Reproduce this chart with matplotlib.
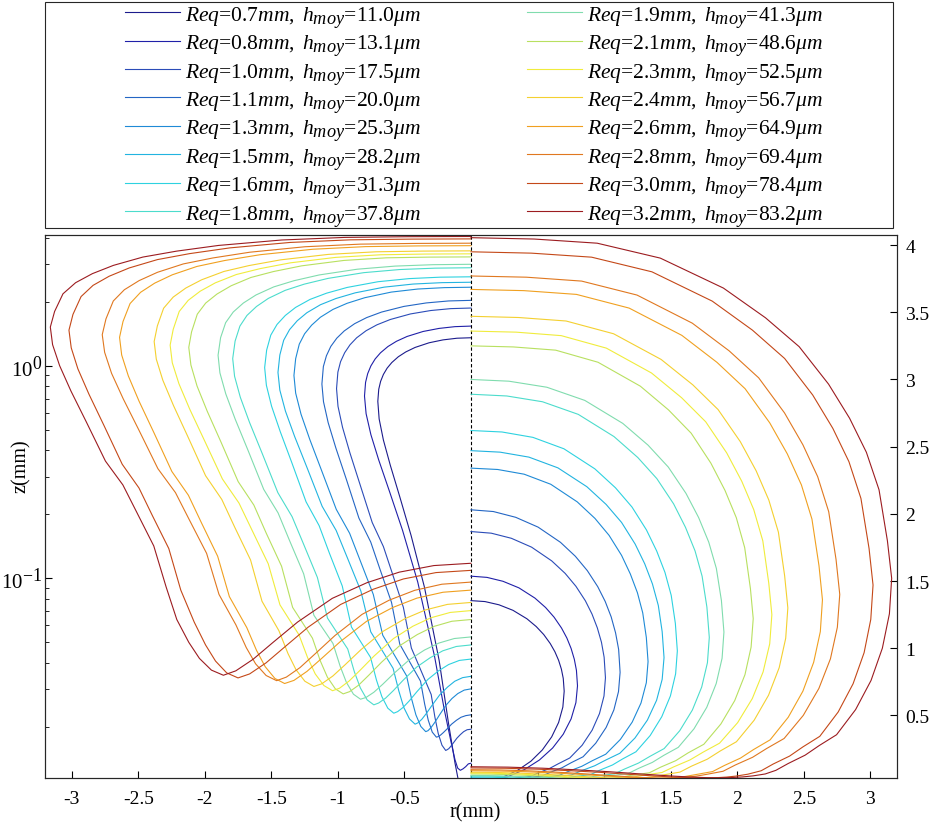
import matplotlib
matplotlib.use("Agg")
import matplotlib.pyplot as plt
import matplotlib._mathtext as mtext
from matplotlib.patches import Rectangle
from matplotlib.ticker import NullFormatter

plt.rcParams['font.family'] = 'Liberation Serif'
plt.rcParams['mathtext.fontset'] = 'custom'
plt.rcParams['mathtext.rm'] = 'Liberation Serif'
plt.rcParams['mathtext.it'] = 'Liberation Serif:italic'
mtext.SHRINK_FACTOR = 0.85  # MATLAB-like larger sub/superscripts

# bubble parameters (legend)
req = [0.7, 0.8, 1.0, 1.1, 1.3, 1.5, 1.6, 1.8, 1.9, 2.1, 2.3, 2.4, 2.6, 2.8, 3.0, 3.2]
h_moy = [11.0, 13.1, 17.5, 20.0, 25.3, 28.2, 31.3, 37.8, 41.3, 48.6, 52.5, 56.7, 64.9, 69.4, 78.4, 83.2]

# bubble profiles r(mm), z(mm): top (r=0) -> widest point -> rim -> film centre (r=0)
r_07 = [0, .105, .210, .315, .420, .490, .546, .595, .630, .658, .679, .693, .70,
        .690, .658, .606, .536, .450, .35, .239, .17, .12, .09, .06, .03, 0]
z_07 = [1.354, 1.347, 1.323, 1.282, 1.219, 1.161, 1.102, 1.035, .974, .910, .844, .775, .68,
        .562, .447, .340, .243, .159, .091, .041, .021, .0135, .0108, .0102, .0100, .0100]
r_08 = [0, .120, .240, .360, .480, .560, .624, .680, .720, .752, .776, .792, .80,
        .788, .752, .693, .613, .514, .40, .274, .20, .15, .12, .10, .08, .06, .04, .02, 0]
z_08 = [1.536, 1.527, 1.498, 1.449, 1.373, 1.303, 1.231, 1.150, 1.076, .998, .918, .835, .72,
        .595, .474, .360, .257, .168, .096, .043, .024, .017, .014, .0128, .0125, .0127, .013, .0134, .0135]
r_10 = [0, .152, .303, .455, .606, .707, .788, .859, .909, .949, .980, 1.0, 1.01,
        .999, .965, .910, .835, .742, .658, .590, .508, .448, .299, .271, .246, .218, .19,
        .181, .167, .152, .133, .106, .080, .055, .029, 0]
z_10 = [1.868, 1.856, 1.818, 1.752, 1.650, 1.557, 1.461, 1.353, 1.254, 1.151, 1.044, .933, .78,
        .644, .513, .390, .278, .183, .141, .105, .073, .047, .0284, .0222, .0186, .0164, .0155,
        .0156, .0158, .0162, .0168, .0177, .0184, .019, .0194, .0195]
r_11 = [0, .168, .336, .504, .672, .784, .874, .952, 1.008, 1.053, 1.086, 1.109, 1.12,
        1.108, 1.073, 1.015, .937, .842, .753, .683, .597, .535, .379, .348, .321, .291, .26,
        .247, .229, .208, .182, .146, .109, .075, .039, 0]
z_11 = [2.03, 2.017, 1.974, 1.901, 1.788, 1.684, 1.577, 1.458, 1.348, 1.233, 1.114, .991, .82,
        .677, .540, .410, .293, .192, .148, .110, .077, .049, .0328, .0256, .0215, .0189, .0179,
        .018, .0183, .0188, .0195, .0206, .0215, .0222, .0226, .0228]
r_13 = [0, .200, .399, .599, .798, .931, 1.037, 1.131, 1.197, 1.250, 1.290, 1.317, 1.33,
        1.317, 1.277, 1.211, 1.122, 1.012, .912, .832, .734, .663, .484, .447, .414, .377, .34,
        .323, .299, .272, .238, .190, .143, .099, .051, 0]
z_13 = [2.34, 2.330, 2.295, 2.220, 2.089, 1.966, 1.840, 1.691, 1.552, 1.413, 1.263, 1.080, .90,
        .743, .592, .450, .321, .211, .163, .121, .084, .054, .0348, .0272, .0228, .0201, .019,
        .0192, .0199, .021, .0227, .0252, .0272, .0287, .0298, .0302]
r_15 = [0, .218, .435, .653, .870, 1.015, 1.131, 1.233, 1.305, 1.363, 1.407, 1.436, 1.45,
        1.436, 1.394, 1.325, 1.232, 1.118, 1.013, .929, .827, .753, .585, .542, .505, .462, .42,
        .399, .370, .336, .294, .235, .176, .122, .063, 0]
z_15 = [2.47, 2.459, 2.422, 2.342, 2.202, 2.070, 1.936, 1.775, 1.628, 1.478, 1.318, 1.123, .93,
        .768, .612, .465, .332, .218, .168, .125, .087, .056, .0377, .0295, .0247, .0218, .0206,
        .0209, .0217, .0231, .0252, .0283, .0308, .0328, .0341, .0346]
r_16 = [0, .233, .465, .698, .930, 1.085, 1.209, 1.318, 1.395, 1.457, 1.504, 1.535, 1.55,
        1.537, 1.498, 1.433, 1.346, 1.239, 1.141, 1.063, .967, .898, .755, .71, .67, .625, .58,
        .551, .510, .464, .406, .325, .244, .168, .087, 0]
z_16 = [2.62, 2.609, 2.569, 2.484, 2.335, 2.194, 2.051, 1.880, 1.723, 1.564, 1.393, 1.185, .98,
        .809, .645, .490, .350, .229, .177, .131, .092, .059, .0425, .0332, .0278, .0245, .0232,
        .0236, .0247, .0265, .0293, .0334, .0367, .0393, .0411, .0417]
r_18 = [0, .269, .537, .806, 1.074, 1.253, 1.396, 1.522, 1.611, 1.683, 1.736, 1.772, 1.79,
        1.776, 1.733, 1.663, 1.568, 1.451, 1.344, 1.258, 1.154, 1.078, .926, .876, .831, .780, .73,
        .694, .642, .584, .511, .409, .307, .212, .110, 0]
z_18 = [2.89, 2.877, 2.834, 2.740, 2.575, 2.419, 2.262, 2.074, 1.900, 1.724, 1.536, 1.306, 1.08,
        .892, .711, .540, .386, .253, .195, .145, .101, .065, .0465, .0363, .0305, .0268, .0254,
        .0259, .0273, .0296, .0331, .0382, .0423, .0456, .0478, .0486]
r_19 = [0, .285, .570, .855, 1.140, 1.330, 1.482, 1.615, 1.710, 1.786, 1.843, 1.881, 1.90,
        1.886, 1.842, 1.771, 1.675, 1.557, 1.449, 1.362, 1.257, 1.180, 1.037, .983, .936, .883, .83,
        .789, .730, .664, .581, .465, .349, .241, .125, 0]
z_19 = [3.00, 2.987, 2.942, 2.844, 2.673, 2.511, 2.348, 2.152, 1.972, 1.789, 1.594, 1.355, 1.12,
        .925, .737, .560, .400, .262, .203, .150, .105, .067, .0494, .0386, .0324, .0285, .027,
        .0275, .0291, .0317, .0356, .0413, .046, .0496, .0521, .053]
r_21 = [0, .318, .636, .954, 1.272, 1.484, 1.654, 1.802, 1.908, 1.993, 2.056, 2.099, 2.12,
        2.104, 2.058, 1.981, 1.877, 1.749, 1.631, 1.538, 1.423, 1.340, 1.191, 1.132, 1.079, 1.019, .96,
        .912, .845, .768, .672, .538, .403, .278, .144, 0]
z_21 = [3.25, 3.242, 3.218, 3.128, 2.950, 2.773, 2.600, 2.377, 2.174, 1.971, 1.748, 1.443, 1.22,
        1.008, .803, .610, .436, .285, .221, .163, .114, .073, .0523, .0409, .0343, .0302, .0286,
        .0293, .0314, .035, .0403, .0481, .0544, .0594, .0628, .064]
r_23 = [0, .339, .678, 1.017, 1.356, 1.582, 1.763, 1.921, 2.034, 2.124, 2.192, 2.237, 2.26,
        2.244, 2.194, 2.113, 2.003, 1.867, 1.743, 1.644, 1.523, 1.435, 1.292, 1.227, 1.170, 1.105, 1.04,
        .988, .915, .832, .728, .582, .437, .302, .156, 0]
z_23 = [3.36, 3.352, 3.326, 3.233, 3.048, 2.864, 2.685, 2.453, 2.242, 2.031, 1.799, 1.482, 1.25,
        1.033, .823, .625, .446, .293, .226, .168, .117, .075, .0542, .0423, .0355, .0313, .0296,
        .0304, .0329, .037, .0431, .0521, .0595, .0652, .0691, .0705]
r_24 = [0, .357, .714, 1.071, 1.428, 1.666, 1.856, 2.023, 2.142, 2.237, 2.309, 2.356, 2.38,
        2.364, 2.315, 2.235, 2.127, 1.994, 1.872, 1.775, 1.656, 1.570, 1.443, 1.375, 1.315, 1.248, 1.18,
        1.121, 1.038, .944, .826, .661, .496, .342, .177, 0]
z_24 = [3.47, 3.461, 3.435, 3.340, 3.149, 2.960, 2.776, 2.537, 2.320, 2.103, 1.864, 1.539, 1.30,
        1.074, .855, .650, .464, .304, .235, .174, .122, .078, .0567, .0443, .0372, .0328, .031,
        .0319, .0347, .0393, .0462, .0563, .0646, .071, .0754, .077]
r_26 = [0, .396, .792, 1.188, 1.584, 1.848, 2.059, 2.244, 2.376, 2.482, 2.561, 2.614, 2.64,
        2.624, 2.574, 2.493, 2.383, 2.247, 2.123, 2.024, 1.903, 1.815, 1.684, 1.611, 1.546, 1.473, 1.40,
        1.33, 1.232, 1.12, .98, .784, .588, .406, .21, 0]
z_26 = [3.67, 3.661, 3.633, 3.531, 3.328, 3.127, 2.931, 2.677, 2.446, 2.215, 1.961, 1.614, 1.36,
        1.123, .895, .680, .486, .318, .246, .182, .127, .082, .0586, .0458, .0384, .0338, .032,
        .0331, .0365, .0421, .0505, .0628, .0729, .0807, .086, .088]
r_28 = [0, .416, .831, 1.247, 1.662, 1.939, 2.161, 2.355, 2.493, 2.604, 2.687, 2.742, 2.77,
        2.752, 2.700, 2.613, 2.496, 2.352, 2.220, 2.115, 1.986, 1.893, 1.766, 1.688, 1.618, 1.539, 1.46,
        1.387, 1.285, 1.168, 1.022, .818, .613, .423, .219, 0]
z_28 = [3.77, 3.761, 3.732, 3.628, 3.419, 3.213, 3.012, 2.751, 2.514, 2.277, 2.016, 1.661, 1.40,
        1.156, .921, .700, .500, .328, .253, .188, .131, .084, .0604, .0472, .0396, .0349, .033,
        .0343, .038, .0443, .0538, .0677, .079, .0878, .0938, .096]
r_30 = [0, .453, .906, 1.359, 1.812, 2.114, 2.356, 2.567, 2.718, 2.839, 2.929, 2.990, 3.02,
        3.003, 2.953, 2.870, 2.758, 2.620, 2.494, 2.393, 2.270, 2.180, 2.079, 1.994, 1.919, 1.835, 1.75,
        1.663, 1.540, 1.400, 1.225, .980, .735, .508, .263, 0]
z_30 = [3.95, 3.940, 3.910, 3.801, 3.583, 3.367, 3.156, 2.884, 2.636, 2.388, 2.115, 1.743, 1.47,
        1.214, .967, .735, .525, .344, .266, .197, .138, .088, .0622, .0486, .0408, .0359, .034,
        .0355, .040, .0475, .0588, .0753, .0888, .0993, .1064, .109]
r_32 = [0, .474, .948, 1.422, 1.896, 2.212, 2.465, 2.686, 2.844, 2.970, 3.065, 3.128, 3.16,
        3.143, 3.090, 3.005, 2.889, 2.746, 2.615, 2.510, 2.383, 2.290, 2.21, 2.12, 2.04, 1.95, 1.86,
        1.767, 1.637, 1.488, 1.302, 1.042, .781, .539, .279, 0]
z_32 = [4.055, 4.045, 4.014, 3.903, 3.680, 3.459, 3.244, 2.965, 2.711, 2.458, 2.179, 1.799, 1.52,
        1.256, 1.000, .760, .543, .356, .275, .204, .142, .091, .064, .050, .042, .037, .035,
        .0367, .0416, .0499, .0623, .0805, .0954, .1069, .1148, .1177]

profiles = [(r_07, z_07), (r_08, z_08), (r_10, z_10), (r_11, z_11), (r_13, z_13),
            (r_15, z_15), (r_16, z_16), (r_18, z_18), (r_19, z_19), (r_21, z_21),
            (r_23, z_23), (r_24, z_24), (r_26, z_26), (r_28, z_28), (r_30, z_30),
            (r_32, z_32)]

colors = ['#1c1c8c', '#2020a8', '#2b4cb8', '#2466c4', '#1f8ad6', '#22b4e0',
          '#2ed2e0', '#4cdccc', '#80dcae', '#b8e060', '#f0ec3c', '#f4d030',
          '#f0a020', '#e07820', '#c44818', '#9c1c20']

xticks = [-3, -2.5, -2, -1.5, -1, -0.5, 0.5, 1, 1.5, 2, 2.5, 3]
xticklabels = ['-3', '-2.5', '-2', '-1.5', '-1', '-0.5', '0.5', '1', '1.5', '2', '2.5', '3']
zticks = [0.5, 1, 1.5, 2, 2.5, 3, 3.5, 4]
zticklabels = ['0.5', '1', '1.5', '2', '2.5', '3', '3.5', '4']

W, H = 931, 828
fig = plt.figure(figsize=(W / 100, H / 100), dpi=100)
ax1 = fig.add_axes([45 / W, 1 - 779 / H, 852 / W, 543 / H])
ax2 = ax1.twinx()

handles = []
for (r, z), c in zip(profiles, colors):
    ln, = ax1.plot([-v for v in r], z, color=c, lw=0.8)  # left half, log scale
    ax2.plot(r, z, color=c, lw=0.8)                      # right half, linear
    handles.append(ln)

ax1.axvline(0, color='k', ls=(0, (3, 2)), lw=0.8)

ax1.set_yscale('log')
ax1.set_ylim(0.0115, 4.12)
ax1.set_xlim(-3.2, 3.2)
ax2.set_ylim(0.034, 4.075)

ax1.set_xticks(xticks)
ax1.set_xticklabels(xticklabels)
ax1.yaxis.set_minor_formatter(NullFormatter())
ax2.set_yticks(zticks)
ax2.set_yticklabels(zticklabels)

ax1.tick_params(axis='x', which='both', direction='in', length=5, pad=9, labelsize=14, top=False)
ax1.tick_params(axis='y', which='major', direction='in', length=5, pad=2, labelsize=15)
ax1.tick_params(axis='y', which='minor', direction='in', length=3)
ax2.tick_params(axis='y', which='both', direction='in', length=5, pad=6, labelsize=14)
for ax in (ax1, ax2):
    for s in ax.spines.values():
        s.set_linewidth(0.8)
        s.set_color('#262626')

fig.text(475 / W, 1 - 813 / H, 'r(mm)', ha='center', va='center', fontsize=14.5)
fig.text(21.5 / W, 1 - 466 / H, 'z(mm)', ha='center', va='center', rotation=90, fontsize=14.5)

labels = [r'$\mathit{Req}\text{=}\mathit{%.1fmm,\ h_{moy}}\text{=%.1f}\mathit{\mu m}$' % (a, b)
          for a, b in zip(req, h_moy)]
fig.legend(handles, labels, ncol=2, loc='upper left', bbox_to_anchor=(125 / W, 1 - 5 / H),
           frameon=False, fontsize=15.5, handlelength=2.56, handletextpad=0.23,
           columnspacing=4.9, labelspacing=0.17, borderpad=0, borderaxespad=0)
fig.add_artist(Rectangle((45 / W, 1 - 229 / H), 848 / W, 226 / H, transform=fig.transFigure,
                         fill=False, lw=0.8, ec='#262626'))

fig.savefig('out.png', dpi=100)
